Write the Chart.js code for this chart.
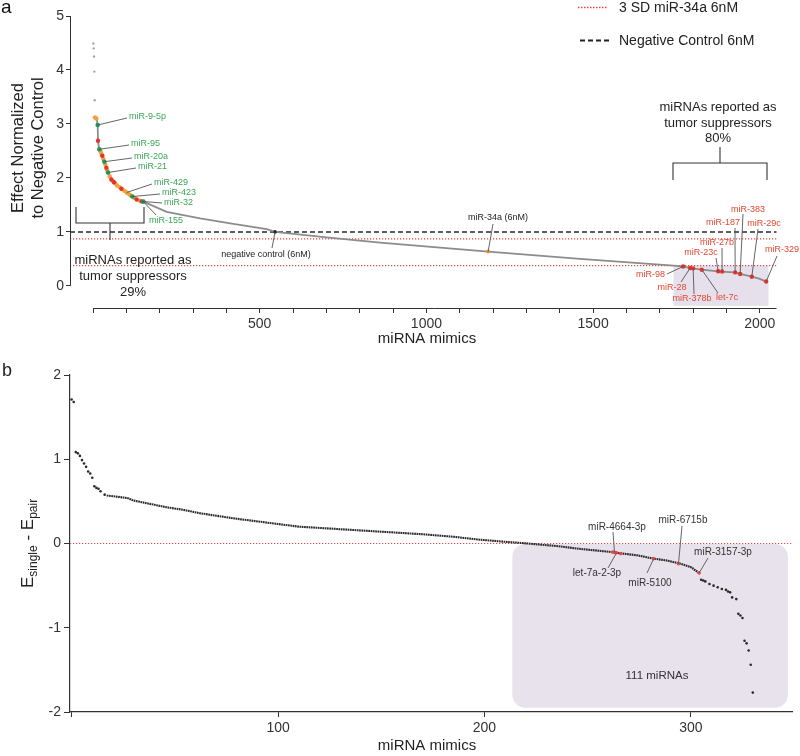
<!DOCTYPE html>
<html>
<head>
<meta charset="utf-8">
<script src="https://cdn.jsdelivr.net/npm/chart.js@4.4.1/dist/chart.umd.min.js"></script>
<style>
  body { margin: 0; background: #fff; }
  #wrap { position: relative; width: 800px; height: 756px; }
  canvas { position: absolute; left: 0; }
</style>
</head>
<body>
<div id="wrap">
  <canvas id="chartA" width="800" height="360" style="top:0"></canvas>
  <canvas id="chartB" width="800" height="396" style="top:360px"></canvas>
</div>
<script>
// ---- panel a data ----
const aXTicks = [0, 100, 200, 300, 400, 500, 600, 700, 800, 900, 1000, 1100, 1200, 1300, 1400, 1500, 1600, 1700, 1800, 1900, 2000];
const aXLabels = [500, 1000, 1500, 2000];
const aYTicks = [0, 1, 2, 3, 4, 5];

const aCurveIdx = [6, 11, 14, 15, 18, 24, 29, 34, 39, 45, 53, 61, 76, 91, 101, 116, 131, 151, 221, 321, 421, 521, 546, 700, 861, 1185, 1461, 1731, 1770, 1791, 1826, 1881, 1926, 1941, 1976, 2000, 2019];
const aCurveVal = [3.12, 3.10, 2.98, 2.69, 2.55, 2.47, 2.39, 2.30, 2.21, 2.10, 1.99, 1.93, 1.84, 1.78, 1.73, 1.65, 1.60, 1.56, 1.37, 1.25, 1.15, 1.05, 1.0, 0.90, 0.80, 0.635, 0.50, 0.38, 0.36, 0.33, 0.30, 0.265, 0.25, 0.22, 0.17, 0.13, 0.08];

const aTopIdx = [1, 2, 3, 4, 5];
const aTopVal = [4.49, 4.40, 4.25, 3.97, 3.44];

const aOrangeIdx = [6, 10, 21, 24, 27, 31, 37, 42, 50, 58, 66, 72, 80, 88, 95, 101, 106, 112, 124, 140];
const aOrangeVal = [3.12, 3.10, 2.51, 2.47, 2.42, 2.35, 2.25, 2.15, 2.03, 1.95, 1.90, 1.86, 1.83, 1.79, 1.76, 1.73, 1.71, 1.68, 1.63, 1.58];

const aGreenIdx = [14, 19, 34, 45, 118, 151];
const aGreenVal = [2.98, 2.53, 2.30, 2.10, 1.655, 1.56];

const aRedIdx = [15, 28, 40, 55, 63, 85, 131, 146, 1770, 1791, 1800, 1826, 1875, 1887, 1926, 1941, 1976, 2019];
const aRedVal = [2.69, 2.41, 2.19, 1.97, 1.92, 1.80, 1.60, 1.565, 0.36, 0.33, 0.325, 0.30, 0.27, 0.265, 0.25, 0.22, 0.17, 0.08];

const aNegCtrl = { x: 546, y: 1.0 };
const aMir34 = { x: 1185, y: 0.635 };
const aNegLine = 1.0;
const aSdLines = [0.87, 0.376];
const aBox = { x0: 1741, x1: 2026, y0: -0.37, y1: 0.376 };

// ---- panel b data ----
const bXTicks = [0, 100, 200, 300];
const bXLabels = [100, 200, 300];
const bYTicks = [-2, -1, 0, 1, 2];

const bSparseIdx = [0, 1, 2, 3, 4, 5, 6, 7, 8, 9, 10, 11, 12, 13, 14, 16];
const bSparseVal = [1.71, 1.68, 1.085, 1.07, 1.04, 0.99, 0.95, 0.91, 0.855, 0.83, 0.78, 0.68, 0.66, 0.65, 0.62, 0.58];

const bLineIdx = [17, 22, 27, 30, 38, 46, 54, 62, 70, 78, 86, 94, 102, 110, 130, 150, 170, 185, 198, 210, 219, 235, 246, 261, 267, 274, 282, 288, 295, 300, 304];
const bLineVal = [0.57, 0.555, 0.54, 0.51, 0.47, 0.43, 0.40, 0.36, 0.33, 0.30, 0.275, 0.25, 0.225, 0.20, 0.17, 0.14, 0.11, 0.08, 0.045, 0.02, 0.004, -0.03, -0.063, -0.10, -0.12, -0.14, -0.18, -0.20, -0.24, -0.28, -0.35];

const bTailIdx = [305, 306, 307, 309, 311, 313, 315, 317, 318, 319, 320, 322, 323, 324, 325, 326, 327, 328, 329, 330];
const bTailVal = [-0.43, -0.44, -0.45, -0.48, -0.50, -0.52, -0.54, -0.55, -0.57, -0.58, -0.64, -0.66, -0.835, -0.855, -0.885, -1.155, -1.185, -1.27, -1.44, -1.77];

const bRedIdx = [262, 263, 264, 266, 282, 294, 304];
const bRedVal = [-0.10, -0.105, -0.11, -0.12, -0.18, -0.24, -0.35];
const bZeroLine = 0;
const bBox = { x0: 213.5, x1: 347, y0: -1.95, y1: -0.005 };

// ---- styling ----
const FAMILY = '"Liberation Sans", Arial, Helvetica, sans-serif';
const AXIS = '#333';
const GREEN_TXT = '#3aa757';
const RED_TXT = '#e5462d';

function font(size) { return size + 'px ' + FAMILY; }
function pts(xs, ys) { return xs.map((x, i) => ({ x: x, y: ys[i] })); }
function pt(xs, ys, i) { return { x: xs[i], y: ys[i] }; }

const labelsA = [
  { text: 'miR-9-5p', at: pt(aGreenIdx, aGreenVal, 0), end: [127, 118], pos: [129, 117], align: 'left', color: GREEN_TXT },
  { text: 'miR-95', at: pt(aGreenIdx, aGreenVal, 1), end: [129, 145], pos: [131, 144], align: 'left', color: GREEN_TXT },
  { text: 'miR-20a', at: pt(aGreenIdx, aGreenVal, 2), end: [132, 158], pos: [134, 157], align: 'left', color: GREEN_TXT },
  { text: 'miR-21', at: pt(aGreenIdx, aGreenVal, 3), end: [136, 168], pos: [138, 167], align: 'left', color: GREEN_TXT },
  { text: 'miR-429', at: pt(aOrangeIdx, aOrangeVal, 15), end: [152, 184], pos: [154, 183], align: 'left', color: GREEN_TXT },
  { text: 'miR-423', at: pt(aGreenIdx, aGreenVal, 4), end: [160, 194], pos: [162, 193], align: 'left', color: GREEN_TXT },
  { text: 'miR-32', at: pt(aRedIdx, aRedVal, 7), end: [162, 203], pos: [164, 203], align: 'left', color: GREEN_TXT },
  { text: 'miR-155', at: pt(aGreenIdx, aGreenVal, 5), end: [156, 215], pos: [149, 221], align: 'left', color: GREEN_TXT },
  { text: 'miR-98', at: pt(aRedIdx, aRedVal, 8), end: [667, 274], pos: [665, 275], align: 'right', color: RED_TXT },
  { text: 'miR-28', at: pt(aRedIdx, aRedVal, 9), end: [681, 282], pos: [672, 288], align: 'center', color: RED_TXT },
  { text: 'miR-378b', at: pt(aRedIdx, aRedVal, 10), end: [694, 294], pos: [692, 299], align: 'center', color: RED_TXT },
  { text: 'let-7c', at: pt(aRedIdx, aRedVal, 11), end: [718, 293], pos: [727, 298], align: 'center', color: RED_TXT },
  { text: 'miR-23c', at: pt(aRedIdx, aRedVal, 12), end: [716, 258], pos: [701, 253], align: 'center', color: RED_TXT },
  { text: 'miR-27b', at: pt(aRedIdx, aRedVal, 13), end: [722, 248], pos: [717, 243], align: 'center', color: RED_TXT },
  { text: 'miR-187', at: pt(aRedIdx, aRedVal, 14), end: [735, 228], pos: [723, 223], align: 'center', color: RED_TXT },
  { text: 'miR-383', at: pt(aRedIdx, aRedVal, 15), end: [743, 214], pos: [748, 210], align: 'center', color: RED_TXT },
  { text: 'miR-29c', at: pt(aRedIdx, aRedVal, 16), end: [758, 229], pos: [764, 224], align: 'center', color: RED_TXT },
  { text: 'miR-329', at: pt(aRedIdx, aRedVal, 17), end: [777, 256], pos: [782, 250], align: 'center', color: RED_TXT },
  { text: 'negative control (6nM)', at: aNegCtrl, end: [272, 248], pos: [266, 255], align: 'center', color: '#222' },
  { text: 'miR-34a (6nM)', at: aMir34, end: [493, 224], pos: [498, 218], align: 'center', color: '#222' }
];

const labelsB = [
  { text: 'miR-4664-3p', at: pt(bRedIdx, bRedVal, 1), end: [613, 172], pos: [617, 167], align: 'center', color: '#333' },
  { text: 'let-7a-2-3p', at: pt(bRedIdx, bRedVal, 2), end: [608, 208], pos: [597, 213], align: 'center', color: '#333' },
  { text: 'miR-5100', at: pt(bRedIdx, bRedVal, 4), end: [647, 213], pos: [650, 223], align: 'center', color: '#333' },
  { text: 'miR-6715b', at: pt(bRedIdx, bRedVal, 5), end: [682, 166], pos: [683, 160], align: 'center', color: '#333' },
  { text: 'miR-3157-3p', at: pt(bRedIdx, bRedVal, 6), end: [708, 198], pos: [723, 192], align: 'center', color: '#333' }
];

function drawLabels(chart, labels, size) {
  const { ctx, scales: { x, y } } = chart;
  ctx.save();
  labels.forEach(l => {
    const px = x.getPixelForValue(l.at.x);
    const py = y.getPixelForValue(l.at.y);
    ctx.strokeStyle = '#555';
    ctx.lineWidth = 0.9;
    ctx.beginPath();
    ctx.moveTo(px, py);
    ctx.lineTo(l.end[0], l.end[1]);
    ctx.stroke();
    ctx.fillStyle = l.color;
    ctx.font = font(size);
    ctx.textAlign = l.align;
    ctx.textBaseline = 'middle';
    ctx.fillText(l.text, l.pos[0], l.pos[1]);
  });
  ctx.restore();
}

function hLine(ctx, x0, x1, yy, color, width, dash) {
  ctx.save();
  ctx.strokeStyle = color;
  ctx.lineWidth = width;
  ctx.setLineDash(dash);
  ctx.beginPath();
  ctx.moveTo(x0, yy);
  ctx.lineTo(x1, yy);
  ctx.stroke();
  ctx.restore();
}

function centeredLines(ctx, lines, cx, ys, size) {
  ctx.save();
  ctx.fillStyle = '#222';
  ctx.font = font(size);
  ctx.textAlign = 'center';
  ctx.textBaseline = 'middle';
  lines.forEach((t, i) => ctx.fillText(t, cx, ys[i]));
  ctx.restore();
}

const panelA = {
  id: 'panelA',
  beforeDatasetsDraw(chart) {
    const { ctx, chartArea: ca, scales: { x, y } } = chart;
    ctx.save();
    ctx.fillStyle = '#e5e0ec';
    const bx0 = x.getPixelForValue(aBox.x0), bx1 = x.getPixelForValue(aBox.x1);
    const by0 = y.getPixelForValue(aBox.y1), by1 = y.getPixelForValue(aBox.y0);
    ctx.fillRect(bx0, by0, bx1 - bx0, by1 - by0);
    ctx.restore();
    hLine(ctx, ca.left, ca.right, y.getPixelForValue(aNegLine), '#2a2a2a', 1.5, [5, 3]);
    aSdLines.forEach(v => hLine(ctx, ca.left, ca.right, y.getPixelForValue(v), '#e24848', 1.2, [1.2, 1.8]));
  },
  afterDatasetsDraw(chart) {
    const { ctx, chartArea: ca, scales: { x, y } } = chart;
    // offset axes
    ctx.save();
    ctx.strokeStyle = AXIS;
    ctx.lineWidth = 1;
    ctx.beginPath();
    ctx.moveTo(ca.left + 0.5, y.getPixelForValue(0));
    ctx.lineTo(ca.left + 0.5, y.getPixelForValue(5));
    ctx.moveTo(x.getPixelForValue(0), ca.bottom + 0.5);
    ctx.lineTo(ca.right, ca.bottom + 0.5);
    ctx.stroke();

    // brackets
    ctx.lineWidth = 1.1;
    ctx.beginPath();
    ctx.moveTo(76, 207); ctx.lineTo(76, 223); ctx.lineTo(144, 223); ctx.lineTo(144, 207);
    ctx.moveTo(110, 223); ctx.lineTo(110, 240);
    ctx.moveTo(673, 180); ctx.lineTo(673, 163); ctx.lineTo(767, 163); ctx.lineTo(767, 180);
    ctx.moveTo(720, 163); ctx.lineTo(720, 147);
    ctx.stroke();
    ctx.restore();

    centeredLines(ctx, ['miRNAs reported as', 'tumor suppressors', '29%'], 133, [260, 276, 292], 13);
    centeredLines(ctx, ['miRNAs reported as', 'tumor suppressors', '80%'], 718, [107, 123, 138], 13);

    drawLabels(chart, labelsA, 9);

    // legend
    hLine(ctx, 578, 608, 7.5, '#e24848', 1.5, [1.5, 1.5]);
    hLine(ctx, 580, 610, 40.5, '#222', 1.8, [5, 3]);
    ctx.save();
    ctx.fillStyle = '#222';
    ctx.font = font(14);
    ctx.textAlign = 'left';
    ctx.textBaseline = 'middle';
    ctx.fillText('3 SD miR-34a 6nM', 619, 8);
    ctx.fillText('Negative Control 6nM', 619, 41);

    // axis titles
    ctx.font = font(15);
    ctx.textAlign = 'center';
    ctx.fillText('miRNA mimics', 427, 339);
    ctx.translate(23, 148);
    ctx.rotate(-Math.PI / 2);
    ctx.font = font(16.5);
    ctx.textBaseline = 'alphabetic';
    ctx.fillText('Effect Normalized', 0, 0);
    ctx.fillText('to Negative Control', 0, 19.5);
    ctx.restore();

    ctx.save();
    ctx.fillStyle = '#111';
    ctx.font = font(19);
    ctx.textAlign = 'left';
    ctx.textBaseline = 'alphabetic';
    ctx.fillText('a', 1, 13);
    ctx.restore();
  }
};

const panelB = {
  id: 'panelB',
  beforeDatasetsDraw(chart) {
    const { ctx, chartArea: ca, scales: { x, y } } = chart;
    const bx0 = x.getPixelForValue(bBox.x0), bx1 = x.getPixelForValue(bBox.x1);
    const by0 = y.getPixelForValue(bBox.y1), by1 = y.getPixelForValue(bBox.y0);
    const r = 13;
    ctx.save();
    ctx.fillStyle = '#e7e2eb';
    ctx.beginPath();
    ctx.moveTo(bx0 + r, by0);
    ctx.lineTo(bx1 - r, by0);
    ctx.arcTo(bx1, by0, bx1, by0 + r, r);
    ctx.lineTo(bx1, by1 - r);
    ctx.arcTo(bx1, by1, bx1 - r, by1, r);
    ctx.lineTo(bx0 + r, by1);
    ctx.arcTo(bx0, by1, bx0, by1 - r, r);
    ctx.lineTo(bx0, by0 + r);
    ctx.arcTo(bx0, by0, bx0 + r, by0, r);
    ctx.closePath();
    ctx.fill();
    ctx.restore();
    hLine(ctx, ca.left, ca.right, y.getPixelForValue(bZeroLine), '#e24848', 1.2, [1.2, 1.8]);
  },
  afterDatasetsDraw(chart) {
    const { ctx } = chart;
    drawLabels(chart, labelsB, 10);
    ctx.save();
    ctx.fillStyle = '#333';
    ctx.font = font(11.5);
    ctx.textAlign = 'center';
    ctx.textBaseline = 'middle';
    ctx.fillText('111 miRNAs', 657, 316);

    ctx.fillStyle = '#222';
    ctx.font = font(15);
    ctx.fillText('miRNA mimics', 427, 386);

    ctx.font = font(18);
    ctx.textAlign = 'left';
    ctx.textBaseline = 'alphabetic';
    ctx.fillText('b', 2, 16);

    // E_single - E_pair
    ctx.translate(33, 228);
    ctx.rotate(-Math.PI / 2);
    let cx = 0;
    [['E', 17, 0], ['single', 12, 4], [' - E', 17, 0], ['pair', 12, 4]].forEach(p => {
      ctx.font = font(p[1]);
      ctx.fillText(p[0], cx, p[2]);
      cx += ctx.measureText(p[0]).width;
    });
    ctx.restore();
  }
};

const tickFont = { family: FAMILY, size: 14 };

new Chart(document.getElementById('chartA'), {
  type: 'scatter',
  data: {
    datasets: [
      { data: pts(aGreenIdx, aGreenVal), backgroundColor: '#1f9a5c', pointRadius: 2.3, borderWidth: 0, order: 1 },
      { data: pts(aRedIdx, aRedVal), backgroundColor: '#e0352c', pointRadius: 2.2, borderWidth: 0, order: 2 },
      { data: pts(aOrangeIdx, aOrangeVal), backgroundColor: '#f2a03c', pointRadius: 2.2, borderWidth: 0, order: 3 },
      { data: [aMir34], backgroundColor: '#e8903a', pointRadius: 2, borderWidth: 0, order: 1 },
      { data: [aNegCtrl], backgroundColor: '#222', pointRadius: 1.8, borderWidth: 0, order: 1 },
      { data: pts(aTopIdx, aTopVal), backgroundColor: '#a8a8a8', pointRadius: 1.2, borderWidth: 0, order: 4 },
      { type: 'line', data: pts(aCurveIdx, aCurveVal), borderColor: '#8c8c8c', borderWidth: 1.8, pointRadius: 0, tension: 0, fill: false, order: 10 }
    ]
  },
  options: {
    responsive: false,
    animation: false,
    events: [],
    layout: { padding: { left: 0, top: 16, right: 23.5, bottom: 0 } },
    plugins: { legend: { display: false }, tooltip: { enabled: false } },
    scales: {
      x: {
        type: 'linear', min: -69, max: 2050,
        afterFit(s) { s.height = 52; },
        afterBuildTicks(s) { s.ticks = aXTicks.map(v => ({ value: v })); },
        grid: { drawOnChartArea: false, drawTicks: true, tickLength: 5, tickColor: AXIS, lineWidth: 1 },
        border: { display: false },
        ticks: { autoSkip: false, maxRotation: 0, padding: 3, color: '#333', font: tickFont,
          callback: v => aXLabels.includes(v) ? String(v) : '' }
      },
      y: {
        type: 'linear', min: -0.41, max: 5,
        afterFit(s) { s.width = 70; },
        afterBuildTicks(s) { s.ticks = aYTicks.map(v => ({ value: v })); },
        grid: { drawOnChartArea: false, drawTicks: true, tickLength: 4, tickColor: AXIS, lineWidth: 1 },
        border: { display: false },
        ticks: { autoSkip: false, padding: 2, color: '#333', font: tickFont, callback: v => String(v) }
      }
    }
  },
  plugins: [panelA]
});

new Chart(document.getElementById('chartB'), {
  type: 'scatter',
  data: {
    datasets: [
      { data: pts(bRedIdx, bRedVal), backgroundColor: '#e04a4a', pointRadius: 1.8, borderWidth: 0, order: 1 },
      { data: pts(bSparseIdx, bSparseVal), backgroundColor: '#2a2a2a', pointRadius: 1.3, borderWidth: 0, order: 2 },
      { data: pts(bTailIdx, bTailVal), backgroundColor: '#2a2a2a', pointRadius: 1.3, borderWidth: 0, order: 2 },
      { type: 'line', data: pts(bLineIdx, bLineVal), borderColor: '#2a2a2a', borderWidth: 2.1, borderDash: [1.7, 0.6], pointRadius: 0, tension: 0, fill: false, order: 10 }
    ]
  },
  options: {
    responsive: false,
    animation: false,
    events: [],
    layout: { padding: { left: 0, top: 15, right: 8, bottom: 0 } },
    plugins: { legend: { display: false }, tooltip: { enabled: false } },
    scales: {
      x: {
        type: 'linear', min: -0.8, max: 349,
        afterFit(s) { s.height = 44; },
        afterBuildTicks(s) { s.ticks = bXTicks.map(v => ({ value: v })); },
        grid: { drawOnChartArea: false, drawTicks: true, tickLength: 5, tickColor: AXIS, lineWidth: 1 },
        border: { display: true, color: AXIS, width: 1.2 },
        ticks: { autoSkip: false, maxRotation: 0, padding: 3, color: '#333', font: tickFont,
          callback: v => bXLabels.includes(v) ? String(v) : '' }
      },
      y: {
        type: 'linear', min: -2, max: 2,
        afterFit(s) { s.width = 70; },
        afterBuildTicks(s) { s.ticks = bYTicks.map(v => ({ value: v })); },
        grid: { drawOnChartArea: false, drawTicks: true, tickLength: 6, tickColor: AXIS, lineWidth: 1 },
        border: { display: true, color: AXIS, width: 1.2 },
        ticks: { autoSkip: false, padding: 3, color: '#333', font: tickFont, callback: v => String(v) }
      }
    }
  },
  plugins: [panelB]
});
</script>
</body>
</html>
